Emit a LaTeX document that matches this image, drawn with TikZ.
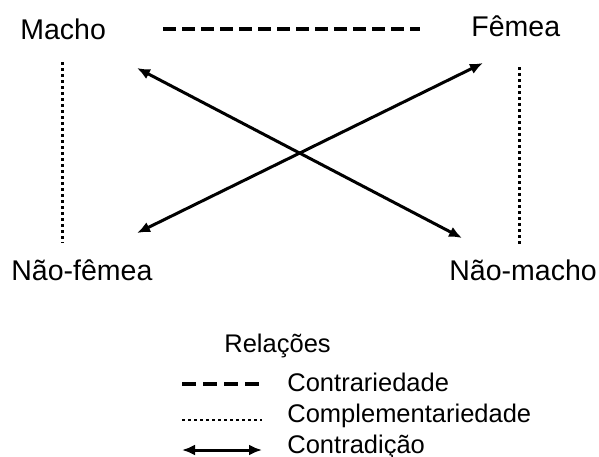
\documentclass[tikz,border=0pt]{standalone}
\usepackage{fontspec}
\setmainfont{Liberation Sans}
\usetikzlibrary{arrows.meta}

\begin{document}
\begin{tikzpicture}
		[x=0.5pt,y=-0.5pt,line cap=butt,
		%Styles
		term/.style={anchor=base west,inner sep=0pt,font=\fontsize{14.25}{17}\selectfont},
		legend text/.style={anchor=base west,inner sep=0pt,font=\fontsize{12.75}{15}\selectfont},
		contrary line/.style={line width=1.75pt,dash pattern=on 6.5pt off 3pt},
		complement line/.style={line width=1.5pt,dash pattern=on 1.5pt off 1.5pt},
		contradiction line/.style={line width=1.5pt,{Latex[length=6.5pt,width=5.5pt]}-{Latex[length=6.5pt,width=5.5pt]}}
		]
		
		\useasboundingbox (0,0) rectangle (599,456);
		
		%The terms
		\node[term] (macho) at (20,39) {Macho};
		\node[term] (femea) at (471,36) {Fêmea};
		\node[term] (naofemea) at (11,280) {Não-fêmea};
		\node[term] (naomacho) at (449,280) {Não-macho};
		
		%Line ends
		\coordinate (macho-e) at (163,29);
		\coordinate (femea-w) at (420,29);
		\coordinate (macho-s) at (62,62);
		\coordinate (naofemea-n) at (62,243);
		\coordinate (femea-s) at (519,67);
		\coordinate (naomacho-n) at (519,245);
		\coordinate (macho-se) at (137,68);
		\coordinate (naomacho-nw) at (462,238);
		\coordinate (naofemea-ne) at (137,233);
		\coordinate (femea-sw) at (483,63);
		
		%The graphic
		\draw[contrary line] (macho-e) -- (femea-w);
		\draw[complement line] (macho-s) -- (naofemea-n);
		\draw[complement line] (femea-s) -- (naomacho-n);
		\draw[contradiction line] (macho-se) -- (naomacho-nw);
		\draw[contradiction line] (naofemea-ne) -- (femea-sw);
		
		%Legend
		\node[legend text] (relacoes) at (224,352) {Relações};
		\node[legend text] (contrariedade) at (287,391) {Contrariedade};
		\node[legend text] (complementariedade) at (287,422) {Complementariedade};
		\node[legend text] (contradicao) at (287,453) {Contradição};
		
		\coordinate (key1-w) at (182,384);
		\coordinate (key1-e) at (260,384);
		\coordinate (key2-w) at (182,420);
		\coordinate (key2-e) at (262,420);
		\coordinate (key3-w) at (182,450);
		\coordinate (key3-e) at (262,450);
		
		\draw[contrary line,dash pattern=on 6.75pt off 3.75pt] (key1-w) -- (key1-e);
		\draw[complement line,line width=1.3pt] (key2-w) -- (key2-e);
		\draw[contradiction line] (key3-w) -- (key3-e);
	\end{tikzpicture}
\end{document}
